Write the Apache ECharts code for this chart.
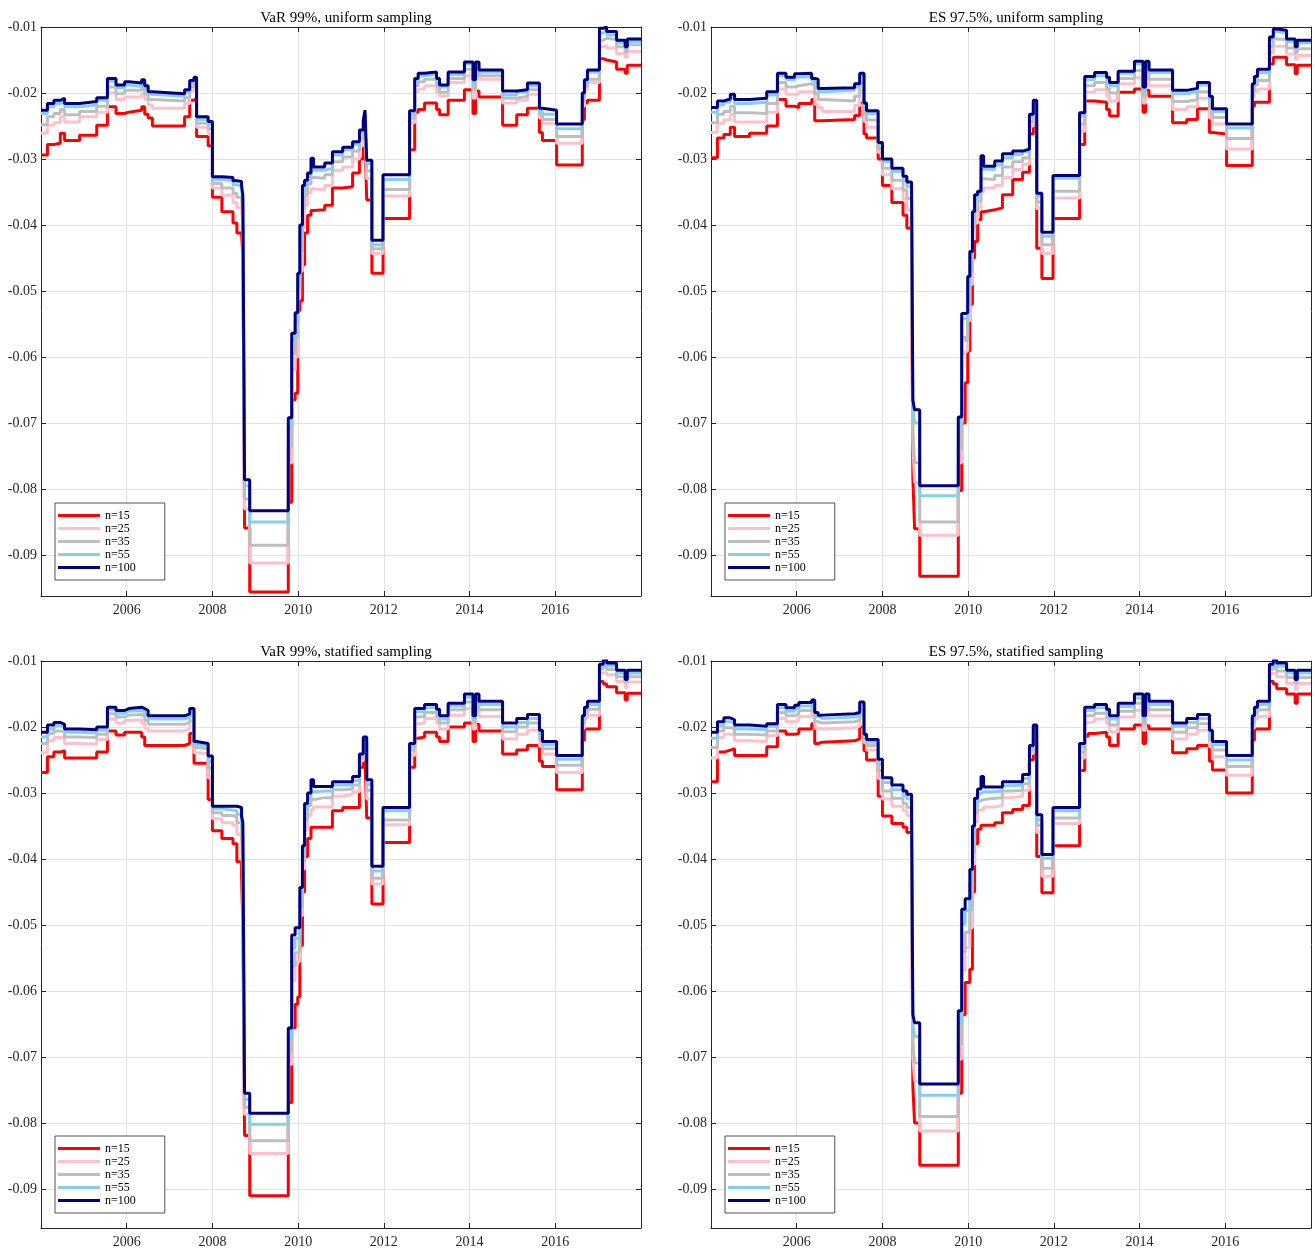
<!DOCTYPE html>
<html>
<head>
<meta charset="utf-8">
<script src="https://cdn.jsdelivr.net/npm/echarts@6/dist/echarts.min.js"></script>
<style>
html,body{margin:0;padding:0;background:#fff;}
#c{width:1315px;height:1249px;}
</style>
</head>
<body>
<div id="c"></div>
<script>
// ---------- DATA (risk measures, magnitudes in units of 0.001; plotted as negative returns) ----------
const dates = [2004.00,2004.15,2004.30,2004.45,2004.55,2004.90,2005.30,2005.55,2005.75,2005.95,
 2006.05,2006.35,2006.42,2006.50,2006.60,2007.35,2007.47,2007.57,2007.63,2007.90,
 2008.00,2008.22,2008.48,2008.57,2008.68,2008.71,2008.75,2008.87,2009.77,2009.85,
 2009.93,2009.99,2010.04,2010.10,2010.15,2010.22,2010.30,2010.36,2010.62,2010.80,
 2011.04,2011.27,2011.43,2011.52,2011.56,2011.60,2011.72,2011.98,2012.60,2012.72,
 2012.80,2012.95,2013.23,2013.30,2013.50,2013.88,2014.08,2014.14,2014.22,2014.77,
 2015.10,2015.35,2015.63,2015.70,2016.03,2016.63,2016.68,2016.75,2017.03,2017.12,
 2017.20,2017.43,2017.63,2017.68,2018.00];

const xTicks = [2006, 2008, 2010, 2012, 2014, 2016];
const yTicks = [-0.09, -0.08, -0.07, -0.06, -0.05, -0.04, -0.03, -0.02, -0.01];
const seriesNames = ['n=15', 'n=25', 'n=35', 'n=55', 'n=100'];
const panelTitles = ['VaR 99%, uniform sampling', 'ES 97.5%, uniform sampling',
                     'VaR 99%, statified sampling', 'ES 97.5%, statified sampling'];

// Panel 1: VaR 99%, uniform sampling
const varU_n15 = [29.4,27.8,27.6,26.1,27.2,26.4,24.9,22.1,23.1,22.9,
 22.6,22.1,23.2,23.8,25.0,23.6,21.1,20.8,26.6,28.0,
 35.8,38.0,39.7,41.2,41.2,44.8,85.9,95.6,82.0,66.5,
 65.5,53.0,51.5,46.0,41.2,38.5,37.8,37.7,37.0,34.4,
 34.2,32.1,30.0,28.0,26.8,36.2,47.3,39.0,28.6,22.9,
 22.5,21.5,22.5,23.3,21.1,19.5,23.1,19.7,20.6,24.9,
 23.3,22.3,26.0,27.2,30.9,24.0,21.5,21.1,14.8,15.0,
 15.3,16.4,17.0,15.8,15.8];
const varU_n25 = [26.1,24.9,24.5,23.6,24.4,23.6,22.9,20.0,21.0,20.6,
 20.6,20.1,21.0,21.8,22.3,21.6,19.7,19.2,25.2,26.2,
 34.4,35.5,36.6,37.4,37.7,40.5,83.0,91.2,76.0,62.0,
 60.0,51.0,47.0,40.5,37.0,35.2,34.5,34.7,34.0,31.7,
 31.2,30.0,28.0,26.1,24.8,33.0,44.3,35.6,24.5,19.8,
 19.4,18.9,20.0,20.4,18.4,17.4,20.8,17.4,17.9,21.5,
 21.1,20.2,23.8,24.6,27.6,22.0,19.5,18.4,13.0,12.8,
 13.2,14.0,14.6,13.7,13.7];
const varU_n35 = [24.8,23.6,23.1,22.5,23.3,22.8,22.0,19.1,20.1,19.6,
 19.6,19.2,20.2,21.0,21.2,20.7,19.0,18.6,24.6,25.4,
 33.7,34.4,35.2,35.8,36.2,38.5,81.5,88.5,73.5,59.5,
 57.0,49.5,44.0,37.5,35.3,33.8,32.8,32.9,32.4,30.4,
 29.7,28.8,26.9,25.2,23.8,31.8,43.6,34.6,23.8,18.9,
 18.3,17.9,19.0,19.9,17.8,16.4,19.5,16.4,17.4,20.8,
 20.5,19.5,23.3,24.0,26.6,21.2,19.0,17.9,12.0,11.7,
 11.9,13.0,13.8,12.7,12.7];
const varU_n55 = [23.1,22.1,21.6,21.3,22.1,21.8,21.1,18.2,19.2,18.8,
 19.0,18.4,19.3,20.2,20.5,19.9,18.4,17.9,24.0,24.7,
 33.1,33.3,33.9,34.1,34.7,36.5,79.5,85.0,70.5,57.5,
 54.5,48.0,41.5,35.0,33.8,32.6,31.2,31.7,31.4,29.4,
 28.6,27.8,26.0,24.4,23.0,30.7,43.0,33.1,23.2,18.1,
 17.4,17.2,18.2,19.1,17.2,15.6,18.5,15.6,16.8,20.3,
 19.9,18.9,22.8,23.2,25.4,20.5,18.4,16.8,10.9,10.6,
 11.2,12.4,13.2,12.2,12.2];
const varU_n100 = [22.6,21.6,21.1,20.8,21.6,21.3,20.7,17.8,18.8,18.3,
 18.5,18.0,18.9,19.8,20.1,19.5,18.1,17.6,23.6,24.3,
 32.7,32.8,33.3,33.4,34.0,35.5,78.6,83.3,69.2,56.4,
 53.3,47.3,40.0,34.0,33.2,32.1,29.9,31.2,30.6,28.9,
 28.2,27.4,25.6,24.1,22.6,30.2,42.3,32.4,22.7,17.8,
 17.0,16.8,17.8,18.8,16.8,15.3,18.0,15.3,16.5,19.7,
 19.5,18.5,22.3,22.6,24.7,20.0,18.0,16.5,10.2,10.0,
 10.7,12.0,13.0,11.8,11.8];

// Panel 2: ES 97.5%, uniform sampling
const esU_n15 = [29.8,26.8,26.3,25.2,26.6,26.1,25.0,21.0,22.0,22.2,
 21.6,21.0,24.2,24.2,24.0,23.4,21.5,26.2,26.8,30.0,
 34.0,36.6,38.5,40.5,45.0,78.2,86.0,93.2,80.2,70.0,
 63.9,59.1,52.0,45.0,42.5,39.2,38.0,37.7,37.4,35.4,
 33.1,32.0,26.2,24.7,24.7,43.5,48.1,39.0,27.8,21.2,
 21.2,21.4,22.5,23.5,19.9,19.4,22.9,19.6,20.5,24.5,
 24.0,22.4,26.0,26.2,31.0,22.0,21.4,21.4,15.6,14.6,
 14.6,15.7,17.1,15.8,15.8];
const esU_n25 = [26.0,24.6,24.1,23.2,24.4,24.4,22.9,19.4,20.2,20.2,
 19.8,19.7,21.7,22.2,22.8,21.9,19.7,24.3,25.2,29.0,
 32.4,34.5,36.1,37.7,40.8,73.0,79.0,87.0,76.0,59.5,
 59.1,54.5,49.0,42.0,39.7,37.5,35.0,34.4,34.0,32.8,
 31.6,30.8,25.0,23.3,23.3,37.5,44.3,35.9,25.8,19.9,
 19.9,19.5,20.4,21.2,18.6,17.7,21.5,17.8,18.9,22.5,
 22.1,20.8,23.8,24.7,28.5,20.6,19.8,19.4,13.9,12.9,
 12.9,14.1,14.9,14.3,14.3];
const esU_n35 = [24.5,23.2,22.8,22.0,23.0,23.1,21.6,18.4,19.1,18.9,
 18.6,18.9,20.1,21.0,21.2,20.5,18.6,23.1,24.1,28.4,
 31.4,33.2,34.7,36.0,38.2,71.2,76.0,85.0,74.0,57.0,
 57.5,52.0,47.0,40.5,37.9,36.4,33.0,33.1,32.5,31.2,
 30.4,29.8,24.3,22.4,22.4,36.5,43.0,34.9,24.7,18.9,
 18.9,18.4,19.3,20.0,17.8,16.6,20.5,16.7,17.9,21.3,
 21.0,19.8,22.4,23.7,26.9,19.8,18.8,18.1,12.9,11.8,
 11.9,13.2,13.9,13.3,13.3];
const esU_n55 = [22.9,21.8,21.4,20.7,21.6,21.4,20.3,17.4,18.0,17.6,
 17.5,18.1,18.5,19.8,19.6,19.1,17.4,22.0,23.1,27.8,
 30.4,31.9,33.2,34.2,35.5,67.8,70.0,81.0,70.5,54.2,
 54.1,48.8,44.8,38.7,36.1,35.3,31.5,31.6,30.9,29.8,
 29.3,28.9,23.5,21.5,21.5,35.6,41.7,32.9,23.5,18.0,
 18.0,17.4,18.1,18.9,17.0,15.6,19.5,15.6,16.9,20.1,
 19.8,18.8,21.0,22.8,25.3,19.0,17.9,16.9,11.9,10.7,
 10.9,12.2,13.0,12.4,12.4];
const esU_n100 = [22.2,21.2,20.9,20.2,21.0,20.8,19.8,17.0,17.6,17.1,
 17.0,17.8,17.9,19.3,19.2,18.6,17.0,21.5,22.7,27.5,
 30.0,31.4,32.6,33.5,34.5,66.5,68.0,79.5,69.1,53.4,
 53.3,47.8,44.0,38.0,35.4,34.9,29.5,31.1,30.3,29.2,
 28.8,28.5,23.2,21.1,21.1,35.2,41.1,32.5,23.0,17.5,
 17.5,16.9,17.6,18.4,16.7,15.2,19.1,15.2,16.5,19.6,
 19.3,18.4,20.5,22.4,24.7,18.6,17.5,16.4,11.5,10.3,
 10.5,11.8,13.0,12.0,12.0];

// Panel 3: VaR 99%, stratified sampling
const varS_n15 = [26.9,24.5,23.8,23.6,24.7,24.7,23.8,20.6,21.2,20.8,
 20.8,21.5,22.8,22.8,22.8,22.5,21.0,25.5,25.5,31.0,
 35.7,36.9,37.7,40.4,42.7,50.0,81.9,91.0,76.9,65.6,
 62.0,60.9,53.1,45.0,39.6,36.9,35.2,35.2,35.2,32.7,
 32.2,32.2,26.1,23.9,24.5,33.8,46.8,37.5,26.1,21.7,
 21.5,20.8,21.5,22.2,20.0,19.4,22.2,19.6,20.6,24.1,
 23.5,22.8,25.2,26.0,29.5,22.0,20.3,20.3,13.1,13.5,
 13.9,14.8,15.9,14.9,14.9];
const varS_n25 = [23.9,22.1,21.6,21.6,22.5,22.6,21.9,18.8,19.4,19.0,
 18.9,19.4,20.2,20.6,20.6,20.3,19.1,23.9,24.0,27.7,
 33.9,34.5,34.9,36.3,38.1,42.3,78.7,84.6,71.1,58.4,
 56.0,55.5,48.6,41.5,35.6,33.4,32.5,32.1,32.1,30.5,
 30.2,29.8,25.1,22.7,23.0,30.9,43.8,34.8,24.3,19.5,
 19.4,18.7,19.4,20.3,18.2,17.2,20.3,17.3,18.4,21.8,
 21.1,20.5,22.9,24.1,26.9,20.2,18.7,18.2,11.8,11.7,
 12.1,13.1,14.0,13.2,13.2];
const varS_n35 = [22.5,21.0,20.6,20.7,21.5,21.6,21.1,18.0,18.5,18.2,
 18.1,18.4,19.0,19.6,19.6,19.3,18.3,23.1,23.3,26.2,
 33.0,33.4,33.6,34.5,36.1,38.8,77.6,82.7,69.3,56.2,
 54.2,53.9,47.2,40.3,34.0,31.9,31.0,30.7,30.7,29.5,
 29.4,28.8,24.7,22.2,22.3,29.6,42.9,34.1,23.5,18.5,
 18.4,17.8,18.5,19.4,17.4,16.2,19.4,16.3,17.4,20.7,
 20.0,19.4,21.8,23.3,25.8,19.3,17.9,17.3,11.2,10.8,
 11.3,12.4,13.2,12.4,12.4];
const varS_n55 = [21.5,20.3,19.8,20.1,20.8,20.9,20.5,17.4,17.9,17.6,
 17.5,17.7,18.1,18.8,18.8,18.5,17.7,22.6,22.9,25.2,
 32.4,32.6,32.7,33.2,34.6,36.4,76.4,80.2,67.2,53.5,
 52.0,51.9,45.5,39.0,32.6,30.8,29.8,29.7,29.7,28.8,
 28.8,28.1,24.3,21.8,21.9,28.7,41.8,32.7,22.9,17.7,
 17.7,17.1,17.8,18.8,16.8,15.5,18.8,15.6,16.6,20.0,
 19.3,18.7,21.1,22.7,24.9,18.7,17.4,16.6,10.8,10.2,
 10.7,11.8,12.6,11.8,11.8];
const varS_n100 = [20.8,19.7,19.3,19.6,20.3,20.4,20.0,17.0,17.5,17.2,
 17.0,17.2,17.5,18.3,18.3,18.0,17.2,22.2,22.5,24.4,
 32.0,32.0,32.0,32.2,33.5,34.5,75.5,78.5,65.6,51.5,
 50.4,50.4,44.3,38.0,31.6,30.0,28.0,29.0,29.0,28.3,
 28.3,27.5,24.1,21.5,21.5,28.0,41.1,32.2,22.5,17.2,
 17.2,16.6,17.3,18.3,16.4,15.0,18.3,15.0,16.1,19.4,
 18.7,18.1,20.5,22.2,24.3,18.3,17.0,16.1,10.5,9.8,
 10.3,11.4,12.8,11.4,11.4];

// Panel 4: ES 97.5%, stratified sampling
const esS_n15 = [28.3,23.8,23.5,23.3,24.3,24.3,23.0,20.6,21.1,21.0,
 20.3,19.5,22.5,22.3,22.1,21.8,20.0,23.6,25.0,30.5,
 33.5,34.6,35.2,36.0,38.0,74.4,80.0,86.4,75.5,63.6,
 58.7,58.7,56.7,45.0,37.7,35.5,34.9,34.9,34.5,33.0,
 32.5,31.9,25.0,22.2,22.2,39.6,45.1,38.0,26.6,21.4,
 21.0,20.8,21.5,22.8,20.3,19.7,22.5,19.8,20.3,23.9,
 23.3,22.8,25.2,26.5,30.0,22.0,20.3,20.3,13.1,13.5,
 14.2,15.0,16.4,15.0,15.0];
const esS_n25 = [24.7,21.6,21.1,21.2,22.1,22.2,21.3,18.7,19.2,19.0,
 18.4,17.8,20.2,20.3,20.1,19.9,18.2,22.4,23.5,27.8,
 30.9,32.0,32.7,33.4,35.6,69.9,73.6,81.2,70.3,56.9,
 53.4,53.4,50.4,40.8,34.4,32.6,32.5,32.1,31.9,30.7,
 30.5,29.6,24.0,21.0,21.0,36.0,42.6,34.6,24.7,19.3,
 19.2,18.8,19.5,20.7,18.5,17.5,20.5,17.5,18.3,21.8,
 21.1,20.5,23.0,24.5,27.3,20.2,18.8,18.4,11.9,11.8,
 12.4,13.4,14.3,13.4,13.4];
const esS_n35 = [23.1,20.6,20.1,20.2,21.1,21.2,20.6,17.8,18.3,18.0,
 17.5,17.0,19.2,19.4,19.2,19.0,17.3,21.9,22.8,26.6,
 29.7,30.8,31.6,32.2,34.5,67.9,70.9,79.0,68.0,54.0,
 51.1,51.1,47.6,39.0,32.9,31.2,31.0,30.8,30.7,29.7,
 29.6,28.6,23.5,20.5,20.5,34.9,41.4,33.8,23.8,18.3,
 18.3,17.9,18.6,19.7,17.6,16.4,19.6,16.4,17.4,20.8,
 20.1,19.5,21.9,23.5,26.0,19.4,18.0,17.4,11.3,10.9,
 11.5,12.5,13.3,12.5,12.5];
const esS_n55 = [21.7,19.8,19.2,19.4,20.3,20.4,19.9,17.1,17.6,17.2,
 16.8,16.3,18.4,18.7,18.5,18.3,16.7,21.4,22.3,25.6,
 28.4,29.5,30.4,30.9,33.3,65.1,66.9,75.8,64.8,49.8,
 47.8,47.8,43.7,36.4,31.6,30.1,29.8,29.8,29.7,28.9,
 28.8,27.8,23.1,20.0,20.0,34.1,39.9,32.7,23.0,17.5,
 17.5,17.1,17.8,18.8,16.9,15.6,18.8,15.6,16.6,19.9,
 19.3,18.7,21.1,22.7,25.0,18.7,17.4,16.6,10.8,10.2,
 10.8,11.8,12.7,11.8,11.8];
const esS_n100 = [20.8,19.2,18.6,18.9,19.7,19.9,19.5,16.6,17.1,16.7,
 16.3,15.9,17.8,18.2,18.0,17.8,16.2,21.1,21.9,24.9,
 27.7,28.8,29.7,30.2,32.7,63.6,64.8,74.1,63.0,47.6,
 46.0,46.0,41.6,35.0,30.8,29.4,27.5,29.1,29.1,28.3,
 28.3,27.2,22.8,19.7,19.7,33.3,39.3,32.2,22.5,17.0,
 17.0,16.6,17.3,18.3,16.4,15.0,18.3,15.0,16.1,19.4,
 18.7,18.1,20.5,22.2,24.3,18.3,17.0,16.1,10.5,9.8,
 10.3,11.4,12.8,11.4,11.4];

const panelSeries = [
  [varU_n15, varU_n25, varU_n35, varU_n55, varU_n100],
  [esU_n15, esU_n25, esU_n35, esU_n55, esU_n100],
  [varS_n15, varS_n25, varS_n35, varS_n55, varS_n100],
  [esS_n15, esS_n25, esS_n35, esS_n55, esS_n100]
];

// ---------- STYLE / LAYOUT ----------
const colors = ['#ff0000', '#ffc0cb', '#bebebe', '#87ceeb', '#000080'];
const FONT = 'Liberation Serif';
const AX = '#262626';
const GRIDC = '#e2e2e2';
const boxes = [
  {left: 41, top: 27, width: 600, height: 569},
  {left: 711, top: 27, width: 600, height: 569},
  {left: 41, top: 661, width: 600, height: 568},
  {left: 711, top: 661, width: 600, height: 568}
];
const yMins = [-0.0962, -0.0962, -0.0959, -0.0959];
const X_MIN = 2004, X_MAX = 2018, Y_MAX = -0.01;

const option = {
  animation: false,
  backgroundColor: '#ffffff',
  title: [], legend: [], grid: [], xAxis: [], yAxis: [], series: []
};

boxes.forEach((b, i) => {
  option.grid.push({left: b.left, top: b.top, width: b.width, height: b.height, show: false});
  option.title.push({
    text: panelTitles[i], left: b.left + b.width / 2, top: b.top - 21, textAlign: 'center',
    textStyle: {fontFamily: FONT, fontSize: 15, fontWeight: 'normal', color: '#000'}
  });
  option.legend.push({
    data: seriesNames, orient: 'vertical', left: b.left + 14, top: b.top + b.height - 93,
    icon: 'rect', itemWidth: 42, itemHeight: 3, itemGap: 0, padding: [6, 29, 6, 3],
    borderColor: AX, borderWidth: 0.8, backgroundColor: '#fff', selectedMode: false,
    textStyle: {fontFamily: FONT, fontSize: 12, color: '#000', lineHeight: 13}
  });
  // bottom x
  option.xAxis.push({
    type: 'value', gridIndex: i, position: 'bottom', min: X_MIN, max: X_MAX,
    axisLine: {show: true, onZero: false, lineStyle: {color: AX, width: 1}},
    axisTick: {show: true, inside: true, length: 5, customValues: xTicks, lineStyle: {color: AX}},
    axisLabel: {show: true, customValues: xTicks, formatter: v => String(v), margin: 7,
                fontFamily: FONT, fontSize: 14, color: AX},
    splitLine: {show: true, lineStyle: {color: GRIDC, width: 1}}
  });
  // left y
  option.yAxis.push({
    type: 'value', gridIndex: i, position: 'left', min: yMins[i], max: Y_MAX,
    axisLine: {show: true, onZero: false, lineStyle: {color: AX, width: 1}},
    axisTick: {show: true, inside: true, length: 5, customValues: yTicks, lineStyle: {color: AX}},
    axisLabel: {show: true, customValues: yTicks, formatter: v => v.toFixed(2), margin: 4,
                fontFamily: FONT, fontSize: 14, color: AX},
    splitLine: {show: true, lineStyle: {color: GRIDC, width: 1}}
  });
});
boxes.forEach((b, i) => {
  option.xAxis.push({
    type: 'value', gridIndex: i, position: 'top', min: X_MIN, max: X_MAX,
    axisLine: {show: true, onZero: false, lineStyle: {color: AX, width: 1}},
    axisTick: {show: true, inside: true, length: 5, customValues: xTicks, lineStyle: {color: AX}},
    axisLabel: {show: false}, splitLine: {show: false}
  });
  option.yAxis.push({
    type: 'value', gridIndex: i, position: 'right', min: yMins[i], max: Y_MAX,
    axisLine: {show: true, onZero: false, lineStyle: {color: AX, width: 1}},
    axisTick: {show: true, inside: true, length: 5, customValues: yTicks, lineStyle: {color: AX}},
    axisLabel: {show: false}, splitLine: {show: false}
  });
});

panelSeries.forEach((arrs, i) => {
  arrs.forEach((vals, j) => {
    option.series.push({
      type: 'line', name: seriesNames[j], xAxisIndex: i, yAxisIndex: i,
      data: dates.map((t, k) => [t, -vals[k] / 1000]),
      step: 'end', symbol: 'none', showSymbol: false, clip: true, silent: true,
      color: colors[j], itemStyle: {color: colors[j]},
      lineStyle: {width: 3, color: colors[j]}, z: 2 + j
    });
  });
});

const chart = echarts.init(document.getElementById('c'), null, {renderer: 'canvas', width: 1315, height: 1249});
chart.setOption(option);
</script>
</body>
</html>
